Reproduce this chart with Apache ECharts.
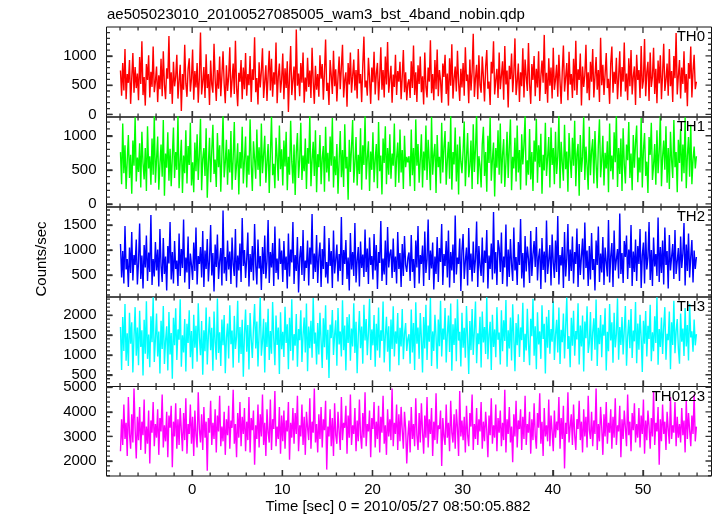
<!DOCTYPE html>
<html><head><meta charset="utf-8">
<script src="https://cdn.jsdelivr.net/npm/echarts@6/dist/echarts.min.js"></script>
<style>html,body{margin:0;padding:0;background:#fff}#c{width:717px;height:516px}</style>
</head><body><div id="c"></div>
<script>
const chartTitle = "ae505023010_20100527085005_wam3_bst_4band_nobin.qdp";
const xTitle = "Time [sec] 0 = 2010/05/27 08:50:05.882";
const yTitle = "Counts/sec";
const panelNames = ["TH0", "TH1", "TH2", "TH3", "TH0123"];
const panelColors = ["#ff0000", "#00ff00", "#0000ff", "#00ffff", "#ff00ff"];
const tStart = -7.95;
const binSize = 0.125;

const th0 = [
750,320,880,410,1120,260,690,540,930,180,620,1050,370,810,450,700,
240,980,520,1250,330,640,150,860,590,1010,290,730,470,1160,380,560,
820,210,670,430,950,310,1080,500,260,790,610,1340,350,720,180,900,
480,640,1020,270,570,850,60,690,420,1190,530,300,780,960,390,610,
1110,250,740,460,880,200,630,1400,340,560,810,280,1030,450,690,160,
920,510,370,1210,600,230,760,440,990,310,670,1080,520,190,840,400,
650,1150,290,580,870,350,1260,470,140,710,560,930,260,800,430,1050,
320,690,500,1000,210,770,590,1320,380,620,170,890,460,740,1130,280,
560,840,230,680,1090,410,950,300,720,510,1230,190,640,870,370,600,
1040,260,790,450,910,40,660,1170,330,580,820,240,1450,490,700,310,
880,540,1060,200,630,390,970,470,750,280,1140,560,180,830,420,690,
300,1010,610,860,250,720,1280,400,540,160,930,670,350,1090,480,770,
220,640,990,430,810,1190,290,590,720,130,880,510,1060,370,650,940,
410,760,270,1120,530,690,210,850,1330,460,580,320,970,620,180,800,
550,1070,340,700,880,240,630,1150,420,760,290,990,510,1240,370,610,
830,200,680,470,1020,330,740,560,900,260,650,1100,380,720,240,530,
600,280,910,450,1180,330,720,210,840,520,990,380,650,170,1060,470,
290,800,560,1270,360,690,240,930,430,1110,310,760,580,200,870,640,
1020,350,700,150,960,490,1200,270,610,820,390,1090,540,230,780,460,
880,320,1150,570,680,190,940,410,730,1380,300,620,850,260,1010,500,
370,990,640,220,810,1100,440,560,160,900,700,1250,340,590,780,280,
1060,430,660,910,250,1170,510,750,120,830,600,1040,380,690,1300,330,
560,870,210,720,480,1130,290,940,640,400,1220,520,180,860,590,1000,
310,780,460,1080,230,650,920,540,1360,350,710,200,960,490,800,270,
1140,420,600,850,300,1020,560,180,740,1180,390,630,880,240,1070,510,
690,280,950,410,1260,330,770,590,1040,150,820,470,670,1190,360,720,
240,900,560,1120,290,640,980,420,760,210,1310,500,850,330,690,1050,
450,610,180,880,1160,370,730,520,970,260,640,1080,300,810,560,1230,
390,700,240,960,480,1100,340,650,820,160,1020,590,760,280,1170,440,
580,1290,310,720,900,230,1060,470,640,1140,350,780,190,920,530,1010,
260,690,1210,400,590,870,320,1120,480,740,210,1000,620,1390,340,660,
930,270,800,520,1080,370,690,140,880,610,1160,290,740,1020,430,560];

const th1 = [
760,290,1180,450,860,220,640,1010,380,720,150,930,560,1270,330,680,
470,890,240,1060,600,360,820,190,1140,520,700,280,960,430,1300,310,
650,990,210,580,870,400,1230,120,740,530,1050,340,810,260,690,1120,
380,760,500,1290,230,620,940,160,710,450,1080,300,850,570,1190,270,
610,170,900,480,1020,350,730,1250,200,660,820,410,1110,90,590,970,
320,780,1160,440,650,250,1040,540,860,180,720,1310,390,610,940,280,
800,460,1070,210,680,1200,350,570,890,140,760,520,1130,300,640,990,
240,710,430,1240,580,190,920,660,370,1090,500,830,260,1180,450,720,
1000,310,620,880,160,740,1280,420,590,230,970,680,340,1150,510,800,
270,930,550,1060,200,690,430,1220,620,300,870,130,760,1040,380,650,
1190,350,710,480,960,220,820,590,1300,260,640,910,410,1080,170,730,
540,1010,290,670,850,180,1130,460,750,330,990,560,1260,240,700,420,
880,150,630,1070,390,790,250,1170,520,690,60,940,470,830,1230,310,
600,980,270,720,440,1110,210,860,570,1290,360,680,920,190,770,500,
1050,320,640,880,230,1200,480,710,140,960,600,1140,290,820,430,1020,
370,740,560,1180,250,670,900,310,1090,460,790,220,1000,540,690,610,
700,260,1090,420,820,190,1240,560,880,310,650,1020,240,770,490,1150,
350,940,610,200,1280,430,720,880,160,1010,540,690,300,1190,460,830,
1070,280,640,910,370,1300,210,760,580,1120,330,870,140,990,620,450,
780,1210,260,680,1040,390,560,930,220,1170,470,810,1310,290,700,560,
240,880,1130,410,760,180,1000,600,1270,340,650,900,110,820,530,1080,
430,1180,300,720,950,250,610,1060,380,840,1240,200,690,520,970,330,
1150,460,790,210,1020,580,870,1290,270,640,430,1100,360,760,190,930,
620,1250,310,860,540,1030,150,720,490,1190,410,680,980,240,1120,570,
820,290,1060,440,700,1300,230,910,600,340,1160,510,770,180,1040,650,
380,970,560,1220,260,730,880,120,1010,470,690,1280,350,840,560,210,
1130,420,780,950,300,1070,590,230,860,1240,390,640,1000,270,750,520,
920,170,1180,480,710,360,1050,610,1300,250,820,440,960,190,1110,580,
300,870,640,1200,380,740,200,1010,530,900,1150,320,680,460,1260,240,
790,1040,410,620,160,980,720,1190,350,560,880,280,1080,450,770,1310,
260,690,930,500,1140,310,820,220,1060,640,380,1230,540,760,170,940,
600,1100,330,870,450,1270,230,710,980,400,1160,290,650,840,520,700];

const th2 = [
1120,450,980,330,1480,610,820,260,1050,540,1360,390,900,700,1210,310,
760,1530,420,890,230,1100,650,1290,380,950,560,1700,300,820,470,1160,
590,1010,270,1420,680,360,1240,520,870,190,1080,730,1560,410,960,330,
1180,620,790,280,1330,480,1020,640,1610,350,850,550,1270,220,930,700,
400,1150,580,1450,310,880,720,1060,450,1380,260,990,620,1220,370,810,
1500,490,940,170,1110,660,1310,420,780,1040,290,1790,530,860,380,1190,
610,970,320,1250,710,480,1420,250,890,590,1130,360,1640,680,1000,440,
820,1350,270,920,560,1080,390,1520,700,310,1210,630,880,200,1060,520,
1290,430,770,1600,340,960,650,1140,280,1470,540,830,410,1230,720,990,
360,1180,600,870,230,1330,470,1010,750,1560,320,900,580,1260,150,840,
1080,500,1400,380,790,640,1190,290,1050,710,1720,420,930,560,1300,340,
870,1150,260,1020,620,1480,450,760,330,1240,680,980,240,1390,530,810,
1110,370,920,580,1660,300,1000,720,1200,420,850,190,1340,610,960,480,
1540,350,790,1060,270,1170,640,910,460,1410,560,1030,320,1250,700,880,
410,1320,590,1100,220,960,740,1580,380,830,510,1190,300,1460,650,920,
1010,440,1230,560,870,330,1360,620,940,260,1120,480,1280,700,560,840,
950,380,1300,560,820,240,1190,650,1480,330,900,720,1090,280,1370,540,
810,1610,400,990,630,1150,210,870,520,1260,360,1040,760,1520,300,920,
680,1180,450,1390,250,960,590,1110,340,1690,510,850,720,1230,180,1000,
1320,420,780,1050,290,1440,600,930,370,1170,540,820,1570,260,1080,690,
480,1250,350,990,740,1400,230,890,620,1130,410,1760,530,960,300,1200,
1040,560,1350,320,870,650,1510,270,1010,460,1220,710,380,1450,590,860,
300,1160,700,1620,430,940,250,1280,570,1070,820,340,1380,480,910,1180,
660,1460,390,850,1030,220,1240,600,970,350,1590,520,800,1100,290,1310,
750,440,1190,560,1680,310,900,690,1060,240,1360,470,830,1520,380,1010,
580,1270,330,960,720,1430,260,1120,500,870,1230,410,1550,640,990,280,
1080,410,1340,600,820,190,1190,700,1470,360,930,550,1260,300,1050,760,
470,1600,350,880,1140,260,1390,590,810,1020,430,1730,520,940,340,1180,
860,1290,420,1010,640,1500,280,970,560,1210,380,1080,720,1420,240,900,
1150,330,1370,610,850,1560,400,1000,280,1250,670,920,480,1650,360,1060,
540,1190,310,1450,700,980,230,1300,590,860,1120,420,1400,520,780,1040,
380,1270,640,930,1540,290,1110,580,1330,450,870,1200,350,990,620,860];

const th3 = [
1700,620,1950,1100,2280,850,1540,720,2060,1280,1820,560,1460,2200,980,1690,
740,2110,1200,1620,480,1880,1030,2350,900,1510,690,1970,1320,2450,820,1400,
2040,960,1590,530,1860,1150,2230,770,1360,1720,610,2080,1010,1550,400,1930,
1240,2170,870,1640,1380,2400,700,1490,1060,1900,580,1780,1300,2120,940,1600,
650,2010,1180,1730,830,2300,1440,990,1850,500,1620,1090,2190,760,1480,1960,
1120,1680,600,2090,1330,880,2420,1050,1570,720,1890,1240,2000,540,1430,1790,
910,2250,1270,1610,680,1980,1150,1460,2360,800,1700,1020,1880,450,1520,2140,
1080,1750,630,2050,1390,920,1670,2280,1160,1840,710,1540,2440,980,1350,1910,
560,1820,1200,2160,870,1600,1030,2330,1410,740,1990,1250,1690,520,2070,1140,
1580,950,2210,1300,1770,640,1930,1100,2400,860,1520,1230,2030,700,1650,1370,
2120,820,1490,1940,1060,2290,590,1710,1170,1860,930,2430,1280,1560,760,1800,
1010,2060,1340,670,1920,1190,2250,880,1630,420,1760,1420,2130,1000,1500,1870,
730,2180,1260,1590,960,2370,1120,1740,610,1950,1300,2020,850,1660,1210,2300,
1050,1830,540,1480,2100,1170,1710,780,2260,1360,1900,990,1550,2410,870,1640,
1240,2000,700,1780,1110,2190,930,1620,1350,2340,810,1470,1960,1080,1720,580,
1890,1150,2220,960,1590,1280,2050,740,1680,1210,2150,890,1520,1800,1100,1400,
1520,780,2140,1060,1800,620,2320,1280,1690,900,2050,1410,560,1950,1160,2260,
870,1740,1330,2430,720,1590,1100,2010,1450,650,1890,1220,2360,960,1660,1380,
2180,810,1510,1990,1070,2290,600,1770,1250,1920,840,2400,1360,1580,710,2060,
1180,1680,930,2230,1420,520,1850,1120,2150,1000,1610,2340,790,1540,1270,1960,
680,2090,1310,1700,1020,2450,890,1490,1830,620,2010,1200,1640,940,2200,1380,
1560,760,2120,1090,1870,1350,2380,700,1620,1160,1940,860,2270,1440,590,1800,
1240,2020,950,1690,1370,2310,820,1530,1110,2160,1290,740,1910,1470,2410,980,
1720,640,2070,1260,1590,900,2250,1400,1780,530,1960,1180,2130,1030,1650,1330,
2350,870,1500,1880,1060,2190,770,1630,1320,2040,910,1720,2440,1150,1470,690,
1930,1230,2110,980,1600,1390,2300,760,1740,1210,1990,580,1840,1420,2220,1050,
1300,2080,850,1560,1920,1130,2390,720,1680,1270,2000,940,1760,1480,2170,610,
1580,1090,2280,1360,1820,800,2060,1190,1520,2420,880,1700,1250,1950,1010,1640,
2230,730,1460,1880,1170,2150,920,1610,1340,2330,790,1790,1130,2010,1420,570,
1860,1280,2100,960,1730,1400,2260,840,1570,1090,1970,1300,2450,750,1650,1200,
1940,1020,1710,2200,880,1530,1370,2090,640,1820,1250,2360,1040,1590,1900,1160,
780,2040,1330,1660,970,2180,1210,1750,860,2280,1440,1590,1080,1890,1240,1520];

const th0123 = [
2400,3700,2650,4300,2900,3550,2200,4600,3100,2500,3900,2750,4950,3300,2100,3800,
2850,4200,2450,3600,3050,4500,2300,3400,2700,4050,1900,3650,3150,4400,2600,3500,
2950,4100,2250,3750,3200,4700,2550,3450,2800,4000,2150,3850,3350,4250,1750,3600,
3000,4350,2500,3700,2650,4150,3250,2400,3950,2850,4550,2300,3500,3100,4300,2700,
3800,2200,4050,3050,2550,4800,3300,2750,3900,2450,4200,2950,3600,1600,3750,3150,
4450,2650,3550,2900,4100,2350,3850,3200,4650,2600,3400,2800,4000,2250,3700,3050,
4250,2500,3650,3350,4900,2700,3500,2150,3950,2950,4400,2600,3800,3100,4150,2400,
3600,2850,4600,2350,3750,3250,4050,1850,3450,2900,4300,2550,3900,3000,4700,2650,
3550,2200,4100,3150,2750,4500,2450,3700,3300,4850,2600,3400,2900,4200,2300,3850,
2800,4050,2500,3650,3200,4400,2050,3550,2950,4150,2700,3950,3100,4650,2400,3450,
3000,4300,2650,3800,2250,4000,3350,2850,4550,2500,3600,3150,4950,2750,3500,2350,
3900,2900,4200,2550,3700,3250,4450,1650,3400,3000,4100,2600,3750,2200,4350,3050,
2700,4000,3200,2450,4600,2850,3550,3350,4250,2300,3850,2950,4700,2650,3450,3100,
4150,2400,3650,2800,4500,3050,2500,3950,2950,4800,2600,3500,3200,4050,2150,3750,
3300,4400,2550,3600,2900,4250,2350,3800,3150,4650,2700,3450,2250,4100,3000,3700,
2850,4950,2600,3550,3100,4300,2450,3900,2800,4200,3250,2500,4000,3350,1900,3000,
3650,2350,4200,2900,3500,2600,4550,3050,2450,3950,2750,4350,3200,2300,3850,2950,
4600,2550,3700,3100,4150,2200,3600,2850,4750,2700,3450,3300,4050,1800,3750,3000,
2650,4300,2950,3550,2400,4450,3150,2750,3900,2500,4100,3350,2200,4850,3000,3650,
2850,3800,2350,4250,3050,2600,3950,3400,4700,2450,3500,2900,4150,2650,3700,3200,
4400,2500,3600,2800,4000,3250,2150,3850,3050,4550,2700,3450,2950,4300,2400,3750,
3150,4050,2600,3550,2850,4900,2350,3700,3100,4200,2750,3400,1950,3900,3000,4450,
2550,3650,3300,4100,2450,3800,2900,4650,2650,3500,3150,4000,2300,3700,2850,4350,
3050,2500,3950,3350,4750,2700,3600,2200,4150,3000,3450,2800,4500,2600,3850,3200,
2400,4050,2950,3600,3250,4600,2500,3750,2900,4250,1700,3550,3100,4800,2750,3400,
3900,2650,4300,3050,2450,3700,3300,4450,2850,3600,2350,4100,3000,3800,2550,4650,
3250,2900,4000,2600,3650,3100,4950,2450,3500,2800,4200,3350,2250,3900,3000,4400,
2700,3550,3150,4100,2500,3800,2950,4550,2650,3450,3200,4250,2150,3700,2900,4050,
3350,2600,4700,3050,3600,2400,3950,3250,4350,2750,3500,2950,4150,2550,3850,3100,
4500,2300,3650,2850,4050,3400,2500,3750,3000,4850,2650,3550,3200,4200,1850,3700,
2800,4300,3100,3600,2450,4000,3300,2700,4600,2900,3450,3150,4400,2600,3800,2950,
3500,2750,4150,3050,3650,2350,4450,2900,3950,3250,2600,3850,3100,4700,2800,3400];

const xMajorTicks = [0, 10, 20, 30, 40, 50];
const xMinorTicks = [-8,-6,-4,-2,2,4,6,8,12,14,16,18,22,24,26,28,32,34,36,38,42,44,46,48,52,54,56];
const yRanges = [[-45, 1495], [-45, 1275], [60, 1860], [205, 2455], [1390, 5030]];
const yMajorTicks = [
  [0, 500, 1000],
  [0, 500, 1000],
  [500, 1000, 1500],
  [500, 1000, 1500, 2000],
  [2000, 3000, 4000, 5000]
];
const yMinorTicks = [
  [100,200,300,400,600,700,800,900,1100,1200,1300,1400],
  [100,200,300,400,600,700,800,900,1100,1200],
  [100,200,300,400,600,700,800,900,1100,1200,1300,1400,1600,1700,1800],
  [300,400,600,700,800,900,1100,1200,1300,1400,1600,1700,1800,1900,2100,2200,2300,2400],
  [1400,1600,1800,2200,2400,2600,2800,3200,3400,3600,3800,4200,4400,4600,4800]
];
const seriesValues = [th0, th1, th2, th3, th0123];

const FONT = "'Liberation Sans', Arial, Helvetica, sans-serif";
const X_MIN = -9.5, X_MAX = 57.6;
const MAJOR_LEN = 6, MINOR_LEN = 3.5;
const GRID_LEFT = 106.5, GRID_WIDTH = 605;
const tops = [27, 117, 207, 297, 386.5];
const heights = [90, 90, 90, 89.5, 89.5];
const plainNum = v => String(v);

const grids = [], xAxes = [], yAxes = [], series = [], graphics = [];
for (let i = 0; i < 5; i++) {
  const yMin = yRanges[i][0], yMax = yRanges[i][1];
  grids.push({left: GRID_LEFT, width: GRID_WIDTH, top: tops[i], height: heights[i], show: true,
    borderColor: '#111', borderWidth: 1, backgroundColor: 'transparent'});
  xAxes.push({type: 'value', gridIndex: i, position: 'bottom', min: X_MIN, max: X_MAX,
    splitLine: {show: false}, axisLine: {show: false, onZero: false},
    axisTick: {show: true, inside: true, length: MAJOR_LEN, customValues: xMajorTicks, lineStyle: {color: '#333', width: 1.3}},
    axisLabel: {show: i === 4, customValues: xMajorTicks, formatter: plainNum, fontSize: 15,
      color: '#000', fontFamily: FONT, margin: 6}});
  yAxes.push({type: 'value', gridIndex: i, position: 'left', min: yMin, max: yMax,
    splitLine: {show: false}, axisLine: {show: false, onZero: false},
    axisTick: {show: true, inside: true, length: MAJOR_LEN, customValues: yMajorTicks[i], lineStyle: {color: '#333', width: 1.3}},
    axisLabel: {show: true, customValues: yMajorTicks[i], formatter: plainNum, fontSize: 15,
      color: '#000', fontFamily: FONT, margin: 10}});
  series.push({
    type: 'line', name: panelNames[i], xAxisIndex: i, yAxisIndex: i,
    data: seriesValues[i].map((v, k) => [tStart + k * binSize, v]),
    showSymbol: false, symbol: 'none', clip: true, sampling: null, z: 2,
    lineStyle: {color: panelColors[i], width: 1.4}, silent: true
  });

  // Tick marks on all four edges, as short segments in data units placed by the axis scales
  const dyPerPx = (yMax - yMin) / heights[i];
  const dxPerPx = (X_MAX - X_MIN) / GRID_WIDTH;
  const tickData = [];
  const addX = (v, len) => {
    tickData.push([v, yMin], [v, yMin + len * dyPerPx], ['-', '-']);
    tickData.push([v, yMax], [v, yMax - len * dyPerPx], ['-', '-']);
  };
  const addY = (v, len) => {
    tickData.push([X_MIN, v], [X_MIN + len * dxPerPx, v], ['-', '-']);
    tickData.push([X_MAX, v], [X_MAX - len * dxPerPx, v], ['-', '-']);
  };
  xMajorTicks.forEach(v => addX(v, MAJOR_LEN));
  xMinorTicks.forEach(v => addX(v, MINOR_LEN));
  yMajorTicks[i].forEach(v => addY(v, MAJOR_LEN));
  yMinorTicks[i].forEach(v => addY(v, MINOR_LEN));
  series.push({
    type: 'line', name: 'ticks' + i, xAxisIndex: i, yAxisIndex: i,
    data: tickData, connectNulls: false,
    showSymbol: false, symbol: 'none', clip: false, sampling: null, z: 6, silent: true,
    lineStyle: {color: '#333', width: 1.3}
  });

  graphics.push({type: 'text', x: 705, y: tops[i] + 10, z: 50,
    style: {text: panelNames[i], fontSize: 15, fontFamily: FONT, fill: '#000', align: 'right', verticalAlign: 'middle'}});
}
graphics.push({type: 'text', x: 107, y: 15,
  style: {text: chartTitle, fontSize: 15, fontFamily: FONT, fill: '#000', align: 'left', verticalAlign: 'middle'}});
graphics.push({type: 'text', x: 398, y: 507,
  style: {text: xTitle, fontSize: 15, fontFamily: FONT, fill: '#000', align: 'center', verticalAlign: 'middle'}});
graphics.push({type: 'text', x: 42, y: 259, rotation: Math.PI / 2,
  style: {text: yTitle, fontSize: 15, fontFamily: FONT, fill: '#000', align: 'center', verticalAlign: 'middle'}});

const chart = echarts.init(document.getElementById('c'), null, {renderer: 'canvas'});
chart.setOption({
  animation: false,
  backgroundColor: '#fff',
  grid: grids, xAxis: xAxes, yAxis: yAxes, series: series, graphic: graphics
});
</script></body></html>
